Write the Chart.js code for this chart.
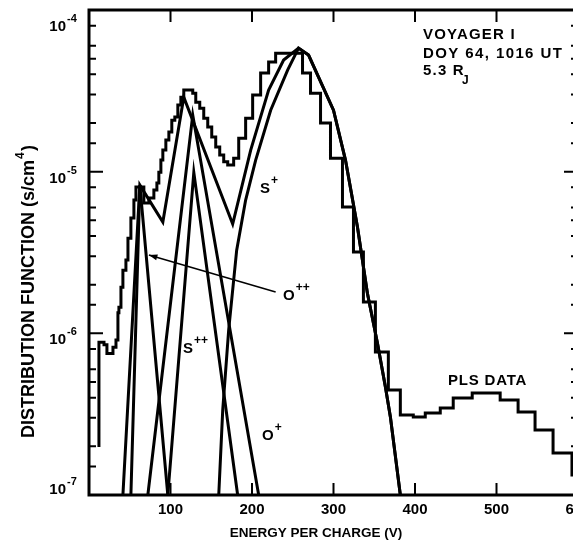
<!DOCTYPE html>
<html>
<head>
<meta charset="utf-8">
<script src="https://cdn.jsdelivr.net/npm/chart.js@4.4.1/dist/chart.umd.min.js"></script>
<style>
  html, body { margin: 0; padding: 0; background: #fff; overflow: hidden; }
  #wrap { position: relative; width: 590px; height: 540px; }
</style>
</head>
<body>
<div id="wrap"><canvas id="plot" width="590" height="540"></canvas></div>
<script>
// PLS channel edges (volts) and measured distribution function per channel
const plsEdges = [12.2, 18.4, 22.0, 29.4, 33.1, 35.5, 36.7, 39.2, 41.6, 45.3, 47.8, 51.4, 55.1, 57.6,
    67.3, 73.5, 79.6, 83.3, 85.7, 88.2, 90.6, 94.3, 98.0, 101.6, 105.3, 109.0, 112.7, 116.3,
    127.3, 131.0, 135.9, 140.8, 145.7, 150.6, 155.5, 160.4, 165.3, 170.2, 177.5, 183.7, 192.2,
    200.8, 210.6, 220.4, 229.0, 262.0, 271.8, 284.1, 296.3, 311.0, 324.5, 336.7, 351.4, 367.3,
    382.0, 397.9, 412.6, 431.0, 446.9, 470.2, 504.5, 526.5, 547.3, 569.4, 592.6, 600];
const plsValues = [8.8e-7, 8.5e-7, 7.5e-7, 8.2e-7, 9.1e-7, 1.34e-6, 1.45e-6, 1.93e-6, 2.46e-6, 2.84e-6,
    3.88e-6, 5.16e-6, 6.67e-6, 8.03e-6, 6.4e-6, 6.87e-6, 7.7e-6, 8.5e-6, 9.9e-6, 1.18e-5, 1.36e-5,
    1.57e-5, 1.76e-5, 2.08e-5, 2.18e-5, 2.58e-5, 2.89e-5, 3.2e-5, 3.06e-5, 2.69e-5, 2.47e-5, 2.14e-5,
    1.89e-5, 1.64e-5, 1.42e-5, 1.27e-5, 1.15e-5, 1.1e-5, 1.21e-5, 1.61e-5, 2.14e-5, 2.98e-5, 4.07e-5,
    4.76e-5, 5.41e-5, 4.07e-5, 3.06e-5, 2.0e-5, 1.21e-5, 6.04e-6, 3.18e-6, 1.56e-6, 7.66e-7, 4.46e-7,
    3.12e-7, 3.04e-7, 3.21e-7, 3.45e-7, 3.98e-7, 4.27e-7, 3.87e-7, 3.26e-7, 2.52e-7, 1.82e-7, 1.33e-7];
const plsFloor = 1.98e-7;

// model fit: total and the four ion components
const totalV = [51.4, 62.4, 90.6, 116.3, 176.3, 198.4, 220.4, 238.8, 257.1, 269.4, 300.0, 314.7,
    329.4, 341.6, 353.9, 363.7, 369.8, 382.0];
const totalF = [1e-7, 8.26e-6, 4.88e-6, 2.89e-5, 4.74e-6, 1.36e-5, 3.2e-5, 4.9e-5, 5.81e-5, 5.26e-5,
    2.4e-5, 1.18e-5, 4.54e-6, 1.77e-6, 8.71e-7, 4.65e-7, 3.04e-7, 1e-7];
const sPlusV = [159.2, 164.1, 171.4, 181.2, 192.2, 204.5, 222.9, 243.7, 257.1, 269.4, 300.0, 314.7,
    329.4, 341.6, 353.9, 363.7, 369.8, 382.0];
const sPlusF = [1e-7, 3.36e-7, 1.05e-6, 3.27e-6, 6.67e-6, 1.18e-5, 2.4e-5, 4.25e-5, 5.81e-5, 5.26e-5,
    2.4e-5, 1.18e-5, 4.54e-6, 1.77e-6, 8.71e-7, 4.65e-7, 3.04e-7, 1e-7];
const oPlusPlusV = [41.6, 62.4, 96.7];
const oPlusPlusF = [1e-7, 8.26e-6, 1e-7];
const oPlusV = [72.2, 127.3, 208.2];
const oPlusF = [1e-7, 2.24e-5, 1e-7];
const sPlusPlusV = [96.7, 128.6, 182.4];
const sPlusPlusF = [1e-7, 9.9e-6, 1e-7];

const xTicks = [100, 200, 300, 400, 500, 600];
const decades = [1e-7, 1e-6, 1e-5, 1e-4];
const minorSteps = [1.5, 2, 3, 4, 5, 6, 8];

const FONT = '"Liberation Sans", Arial, sans-serif';

const toPoints = (xs, ys) => xs.map((v, i) => ({x: v, y: ys[i]}));

// each channel value holds from its left edge to the next edge
const histogram = [{x: plsEdges[0], y: plsFloor}];
plsValues.forEach((v, i) => histogram.push({x: plsEdges[i], y: v}));
histogram.push({x: plsEdges[plsEdges.length - 1], y: plsValues[plsValues.length - 1]});

const curve = (data, width) => ({
    data,
    borderColor: '#000',
    borderWidth: width,
    pointRadius: 0,
    tension: 0,
    fill: false
});

const stepped = curve(histogram, 3);
stepped.stepped = 'before';

const txt = (ctx, s, x, y, size, align, spacing) => {
    ctx.font = `bold ${size}px ${FONT}`;
    ctx.letterSpacing = (spacing || 0) + 'px';
    ctx.textAlign = align || 'left';
    ctx.fillText(s, x, y);
    const w = ctx.measureText(s).width;
    ctx.letterSpacing = '0px';
    return w;
};

const frame = {
    id: 'frame',
    afterDraw(chart) {
        const {ctx, chartArea: a, scales: {x, y}} = chart;
        ctx.save();
        ctx.strokeStyle = '#000';
        ctx.fillStyle = '#000';
        ctx.lineWidth = 3;
        ctx.strokeRect(a.left, a.top, a.right - a.left, a.bottom - a.top);

        // ticks point into the plot on all four sides
        ctx.lineWidth = 2;
        ctx.beginPath();
        xTicks.forEach(v => {
            const px = x.getPixelForValue(v);
            ctx.moveTo(px, a.bottom); ctx.lineTo(px, a.bottom - 12);
            ctx.moveTo(px, a.top); ctx.lineTo(px, a.top + 12);
        });
        decades.forEach(d => {
            const py = y.getPixelForValue(d);
            ctx.moveTo(a.left, py); ctx.lineTo(a.left + 14, py);
            ctx.moveTo(a.right, py); ctx.lineTo(a.right - 14, py);
            if (d >= 1e-4) return;
            minorSteps.forEach(m => {
                const pm = y.getPixelForValue(d * m);
                ctx.moveTo(a.left, pm); ctx.lineTo(a.left + 7, pm);
                ctx.moveTo(a.right, pm); ctx.lineTo(a.right - 7, pm);
            });
        });
        ctx.stroke();

        // decade labels, kept inside the axis range
        ctx.textBaseline = 'middle';
        decades.forEach(d => {
            const py = y.getPixelForValue(d);
            const cy = Math.min(Math.max(py + 7, a.top + 17), a.bottom - 5);
            txt(ctx, '10', 66, cy, 15, 'right');
            txt(ctx, '-' + Math.round(-Math.log10(d)), 67, cy - 8, 11, 'left');
        });

        // axis titles
        ctx.textBaseline = 'alphabetic';
        txt(ctx, 'ENERGY PER CHARGE (V)', 316, 537, 13.5, 'center');
        ctx.save();
        ctx.translate(34, 438);
        ctx.rotate(-Math.PI / 2);
        const w = txt(ctx, 'DISTRIBUTION FUNCTION (s/cm', 0, 0, 18, 'left');
        txt(ctx, '4', w + 1, -10, 12, 'left');
        txt(ctx, ')', w + 9, 0, 18, 'left');
        ctx.restore();

        // spacecraft / time annotation
        txt(ctx, 'VOYAGER I', 423, 39, 15, 'left', 1.2);
        txt(ctx, 'DOY 64, 1016 UT', 423, 58, 15, 'left', 1.4);
        txt(ctx, '5.3 R', 423, 75, 15, 'left', 1.2);
        txt(ctx, 'J', 462, 84, 12);
        txt(ctx, 'PLS DATA', 448, 385, 15, 'left', 0.8);

        // species labels
        const lab = (s, sup, px, py) => {
            const sw = txt(ctx, s, px, py, 15);
            txt(ctx, sup, px + sw + 1, py - 9, 12);
        };
        lab('S', '+', 260, 193);
        lab('S', '++', 183, 353);
        lab('O', '+', 262, 440);
        lab('O', '++', 283, 300);

        // arrow from the O++ label to its curve
        const ax0 = x.getPixelForValue(229), ay0 = y.getPixelForValue(1.8e-6);
        const ax1 = x.getPixelForValue(73.5), ay1 = y.getPixelForValue(3.05e-6);
        ctx.lineWidth = 1.5;
        ctx.beginPath();
        ctx.moveTo(ax0, ay0); ctx.lineTo(ax1, ay1);
        ctx.stroke();
        const ang = Math.atan2(ay1 - ay0, ax1 - ax0);
        ctx.beginPath();
        ctx.moveTo(ax1, ay1);
        ctx.lineTo(ax1 - 9 * Math.cos(ang - 0.35), ay1 - 9 * Math.sin(ang - 0.35));
        ctx.lineTo(ax1 - 9 * Math.cos(ang + 0.35), ay1 - 9 * Math.sin(ang + 0.35));
        ctx.closePath();
        ctx.fill();
        ctx.restore();
    }
};

new Chart(document.getElementById('plot'), {
    type: 'line',
    data: {
        datasets: [
            stepped,
            curve(toPoints(totalV, totalF), 3),
            curve(toPoints(oPlusPlusV, oPlusPlusF), 3),
            curve(toPoints(oPlusV, oPlusF), 3),
            curve(toPoints(sPlusPlusV, sPlusPlusF), 3),
            curve(toPoints(sPlusV, sPlusF), 3)
        ]
    },
    options: {
        responsive: false,
        animation: false,
        layout: {padding: {top: 10, right: 12, left: 0, bottom: 0}},
        plugins: {legend: {display: false}, tooltip: {enabled: false}},
        scales: {
            x: {
                type: 'linear',
                min: 0,
                max: 600,
                grid: {display: false, drawTicks: false},
                border: {display: false},
                afterBuildTicks: s => { s.ticks = xTicks.map(v => ({value: v})); },
                afterFit: s => { s.height = 45; s.paddingLeft = 0; s.paddingRight = 0; },
                ticks: {
                    padding: 6,
                    color: '#000',
                    font: {family: FONT, weight: 'bold', size: 15}
                }
            },
            y: {
                type: 'logarithmic',
                min: 1e-7,
                max: 1e-4,
                grid: {display: false, drawTicks: false},
                border: {display: false},
                afterFit: s => { s.width = 89; s.paddingTop = 0; s.paddingBottom = 0; },
                ticks: {display: false}
            }
        }
    },
    plugins: [frame]
});
</script>
</body>
</html>
